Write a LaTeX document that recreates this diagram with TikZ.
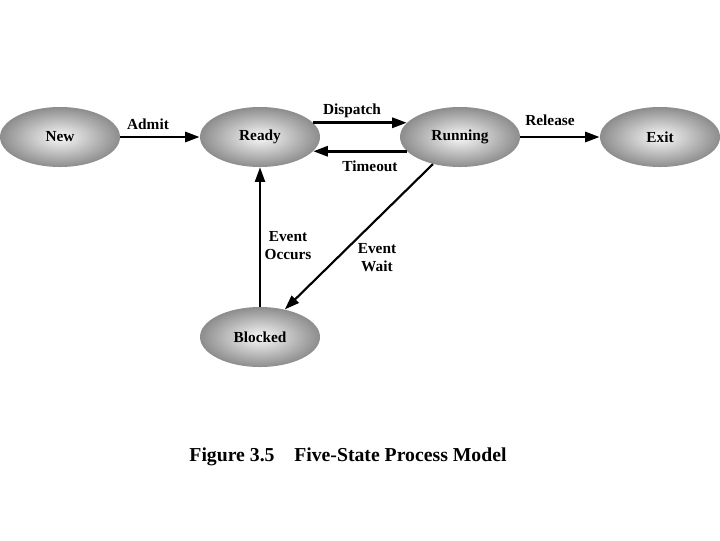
\documentclass[tikz,border=0pt]{standalone}
\usepackage{fontspec}
\setmainfont{Liberation Serif}
\usetikzlibrary{shapes.geometric,arrows.meta}
\tikzset{
  state/.style={ellipse, minimum width=90pt, minimum height=45pt, inner sep=0pt,
    shading=radial, inner color=white!95!gray, outer color=black!45,
    font=\bfseries\fontsize{11.5}{13}\selectfont},
  trans/.style={line width=2.2pt, -{Triangle[length=11pt,width=7.5pt]}},
  thin trans/.style={line width=1.6pt, -{Triangle[length=11pt,width=7.5pt]}},
  lbl/.style={font=\bfseries\fontsize{11.5}{13.5}\selectfont, align=center, inner sep=0pt}
}
\begin{document}
\begin{tikzpicture}[x=0.75pt,y=0.75pt,yscale=-1,xscale=1]
\useasboundingbox (0,0) rectangle (720,540);

% States
\node [state] (new) at (60,137) {New};
\node [state] (ready) at (260,137) {Ready};
\node [state] (running) at (460,137) {Running};
\node [state] (exit) at (660,137) {Exit};
\node [state] (blocked) at (260,337) {Blocked};

% Transitions
\draw [trans] (new) -- (ready);
\draw [trans] (ready.15) -- (running.165);
\draw [trans] (running.195) -- (ready.-15);
\draw [trans] (running) -- (exit);
\draw [thin trans] (blocked.north) -- (ready.south);
\draw [thin trans] (running.225) -- (blocked.48);

% Text Node
\node [lbl] (admit) at (148,124) {Admit};
% Text Node
\node [lbl] (dispatch) at (352,111) {Dispatch};
% Text Node
\node [lbl] (timeout) at (370,166) {Timeout};
% Text Node
\node [lbl] (release) at (550,120) {Release};
% Text Node
\node [lbl] (occurs) at (288,246) {Event\\Occurs};
% Text Node
\node [lbl] (wait) at (377,258) {Event\\Wait};
% Text Node
\node [font=\bfseries\fontsize{14.8}{17}\selectfont] (caption) at (348,457) {Figure 3.5\quad Five-State Process Model};

\end{tikzpicture}
\end{document}
